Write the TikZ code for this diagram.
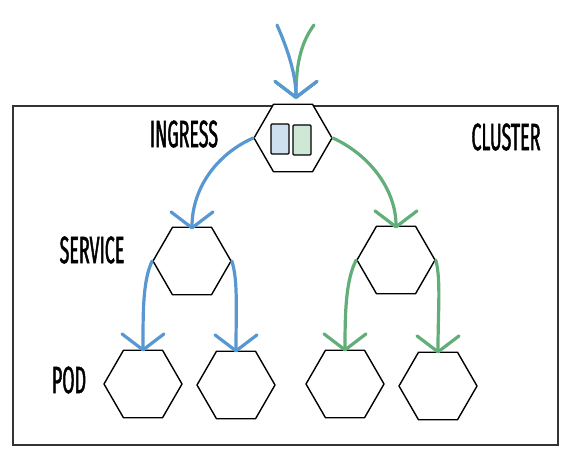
\documentclass[tikz,border=0pt]{standalone}
\usepackage{fontspec}
\newfontfamily\hand{Fira Sans}[FakeStretch=0.47,FakeBold=1.2]
\usetikzlibrary{shapes.geometric,arrows.meta}
\definecolor{kblue}{RGB}{88,152,210}
\definecolor{kgreen}{RGB}{98,174,120}
\definecolor{lblue}{RGB}{206,223,240}
\definecolor{lgreen}{RGB}{207,232,214}
\begin{document}
\begin{tikzpicture}[x=1pt,y=-1pt,
  hexa/.style={draw=black,line width=1.4pt,regular polygon,regular polygon sides=6,minimum size=78pt,inner sep=0pt,line join=round},
  lbl/.style={font=\hand\fontsize{38}{38}\selectfont,inner sep=0pt},
  flow/.style={line width=3.2pt,line cap=round,-{Straight Barb[length=16pt,width=42pt,line width=3.2pt,round]}},
  mini/.style={draw=black,line width=1.2pt,rounded corners=1pt,minimum width=18pt,minimum height=30pt,inner sep=0pt}]
\useasboundingbox (0,0) rectangle (578,462);
\fill[white] (0,0) rectangle (578,462);
\coordinate (cl1) at (13,106);
\coordinate (cl2) at (558,445);
\draw[line width=1.5pt,draw=black!80] (cl1) rectangle (cl2);
% hexagons
\node[hexa,fill=white] (ing) at (293,138) {};
\node[hexa] (svcl) at (192,261) {};
\node[hexa] (svcr) at (396,260) {};
\node[hexa] (pod1) at (143,384) {};
\node[hexa] (pod2) at (236,385) {};
\node[hexa] (pod3) at (345,384) {};
\node[hexa] (pod4) at (438,386) {};
\node[mini,fill=lblue] (rb) at (280,139) {};
\node[mini,fill=lgreen] (rg) at (302,140) {};
% labels
\node[lbl] (tIng) at (184,134) {INGRESS};
\node[lbl] (tSvc) at (92,250) {SERVICE};
\node[lbl] (tPod) at (69,380) {POD};
\node[lbl] (tCl) at (506,137) {CLUSTER};
% incoming
\coordinate (inb) at (277,25);
\coordinate (ingr) at (314,25);
\coordinate (intip) at (296,99);
\draw[flow,draw=kgreen] (ingr) .. controls (299,45) and (296,70) .. (intip);
\draw[flow,draw=kblue] (inb) .. controls (288,50) and (296,75) .. (intip);
% ingress to services
\draw[flow,draw=kblue] (ing.west) .. controls (215,155) and (192,190) .. ([yshift=-3pt]svcl.north);
\draw[flow,draw=kgreen] (ing.east) .. controls (370,155) and (396,190) .. ([yshift=-3pt]svcr.north);
% services to pods
\draw[flow,draw=kblue] (svcl.west) .. controls (143,280) and (143,310) .. ([yshift=-2pt]pod1.north);
\draw[flow,draw=kblue] (svcl.east) .. controls (238,280) and (236,310) .. ([yshift=-2pt]pod2.north);
\draw[flow,draw=kgreen] (svcr.west) .. controls (346,280) and (345,310) .. ([yshift=-2pt]pod3.north);
\draw[flow,draw=kgreen] (svcr.east) .. controls (441,280) and (438,310) .. ([yshift=-2pt]pod4.north);
\end{tikzpicture}
\end{document}
